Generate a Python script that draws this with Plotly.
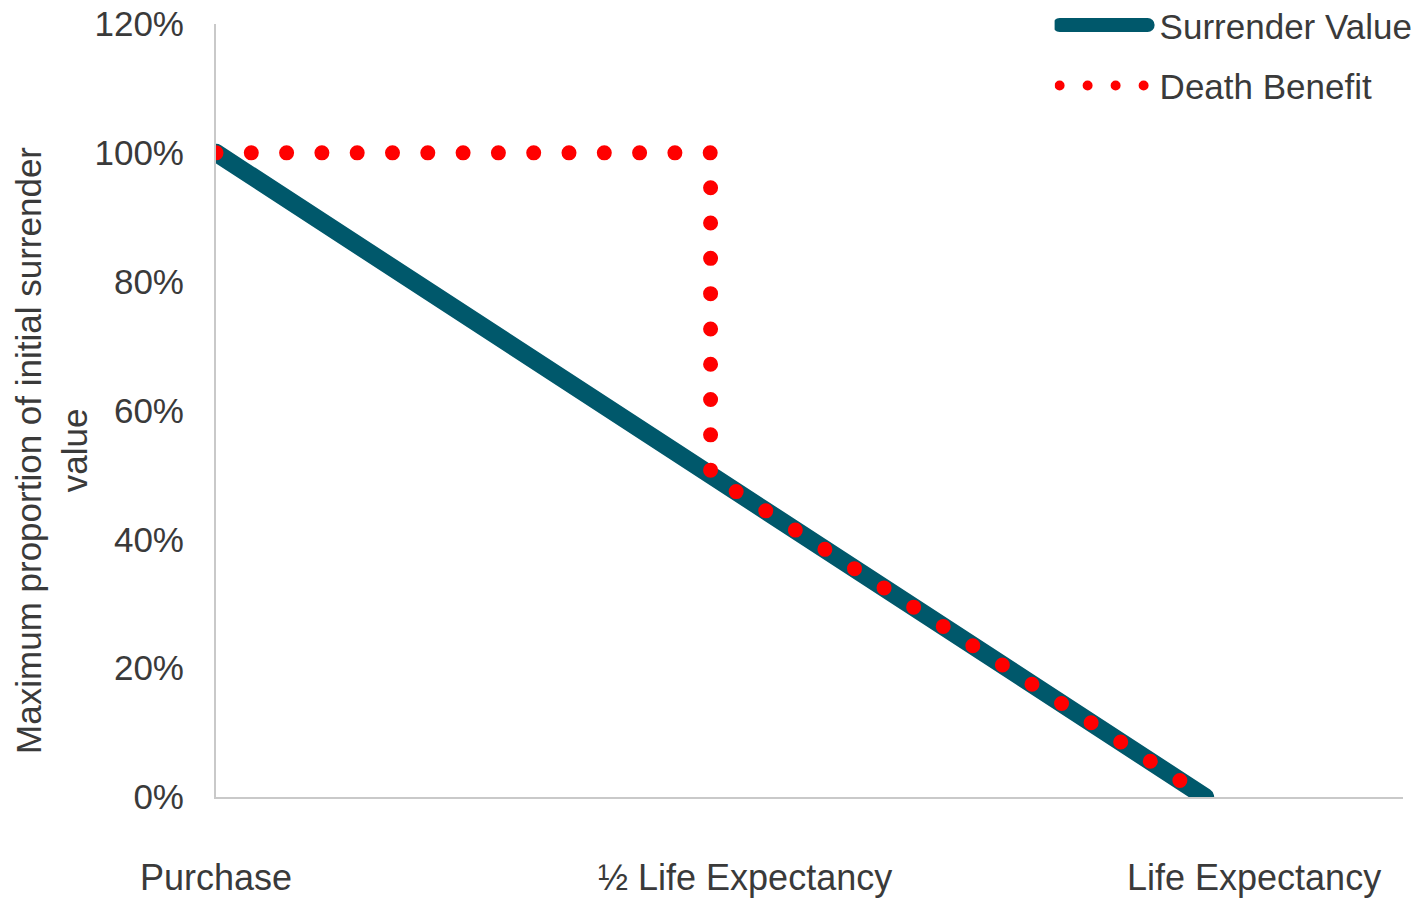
import plotly.graph_objects as go

# Data
surrender_x = [0, 1.0]
surrender_y = [1.0, 0.0]
death_x = [0, 0.5, 0.5, 1.0]
death_y = [1.0, 1.0, 0.5, 0.0]
series_names = ["Surrender Value", "Death Benefit"]
x_labels = ["Purchase", "½ Life Expectancy", "Life Expectancy"]
x_label_pos = [0.0, 0.535, 1.049]
y_ticks = [0, 0.2, 0.4, 0.6, 0.8, 1.0, 1.2]

FONT = "Liberation Sans, Arial, sans-serif"
TXT = "#3a3a3a"
AXIS = "#c9c9c9"

fig = go.Figure()
fig.add_trace(go.Scatter(
    x=surrender_x, y=surrender_y, mode="lines", name="\u2009" + series_names[0],
    line=dict(color="#00586b", width=18), legendgroup="a",
))
fig.add_trace(go.Scatter(
    x=death_x, y=death_y, mode="lines", name="\u2009" + series_names[1],
    line=dict(color="#ff0000", width=15, dash="0px,35.3px"), legendgroup="b",
))

annotations = []
for lab, pos in zip(x_labels, x_label_pos):
    annotations.append(dict(
        x=pos, xref="x", y=-0.104, yref="paper", yanchor="middle", xanchor="center",
        text=lab, showarrow=False, font=dict(family=FONT, size=36, color=TXT),
    ))
annotations.append(dict(
    x=-0.138, xref="paper", y=0.448, yref="paper", xanchor="center", yanchor="middle",
    text="Maximum proportion of initial surrender<br>value", textangle=-90,
    showarrow=False, font=dict(family=FONT, size=35, color=TXT),
))

fig.update_layout(
    width=1417, height=898,
    margin=dict(l=216, r=14, t=24, b=101, autoexpand=False),
    paper_bgcolor="white", plot_bgcolor="white",
    font=dict(family=FONT, size=35, color=TXT),
    showlegend=True,
    legend=dict(x=0.7065, y=1.0365, xanchor="left", yanchor="top",
                itemwidth=88, tracegroupgap=12, bgcolor="rgba(0,0,0,0)",
                font=dict(family=FONT, size=35, color=TXT)),
    annotations=annotations,
    xaxis=dict(range=[0, 1.2], showgrid=False, zeroline=False, showticklabels=False,
               showline=True, linecolor=AXIS, linewidth=2, ticks=""),
    yaxis=dict(range=[0, 1.2], tickvals=y_ticks, tickformat=".0%", showgrid=False,
               zeroline=False, showline=True, linecolor=AXIS, linewidth=2, ticks="",
               ticklabelstandoff=23, tickfont=dict(family=FONT, size=35, color=TXT)),
)

post = """
document.body.style.margin='0';
document.body.style.overflow='hidden';
var gd = document.getElementById('{plot_id}');
function fixCaps(){
  gd.querySelectorAll('path.js-line').forEach(function(p){
    p.style.strokeLinecap='round'; p.style.strokeLinejoin='round';
  });
  var items = gd.querySelectorAll('.legend .traces');
  if (items.length > 1) {
    items[0].querySelectorAll('path.js-line').forEach(function(p){
      p.style.strokeWidth='14px';
    });
    items[1].querySelectorAll('path.js-line').forEach(function(p){
      p.style.strokeDasharray='0px,28px';
    });
  }
}
fixCaps();
gd.on('plotly_afterplot', fixCaps);
"""
fig.write_html("out.html", post_script=post, config={"displayModeBar": False})
